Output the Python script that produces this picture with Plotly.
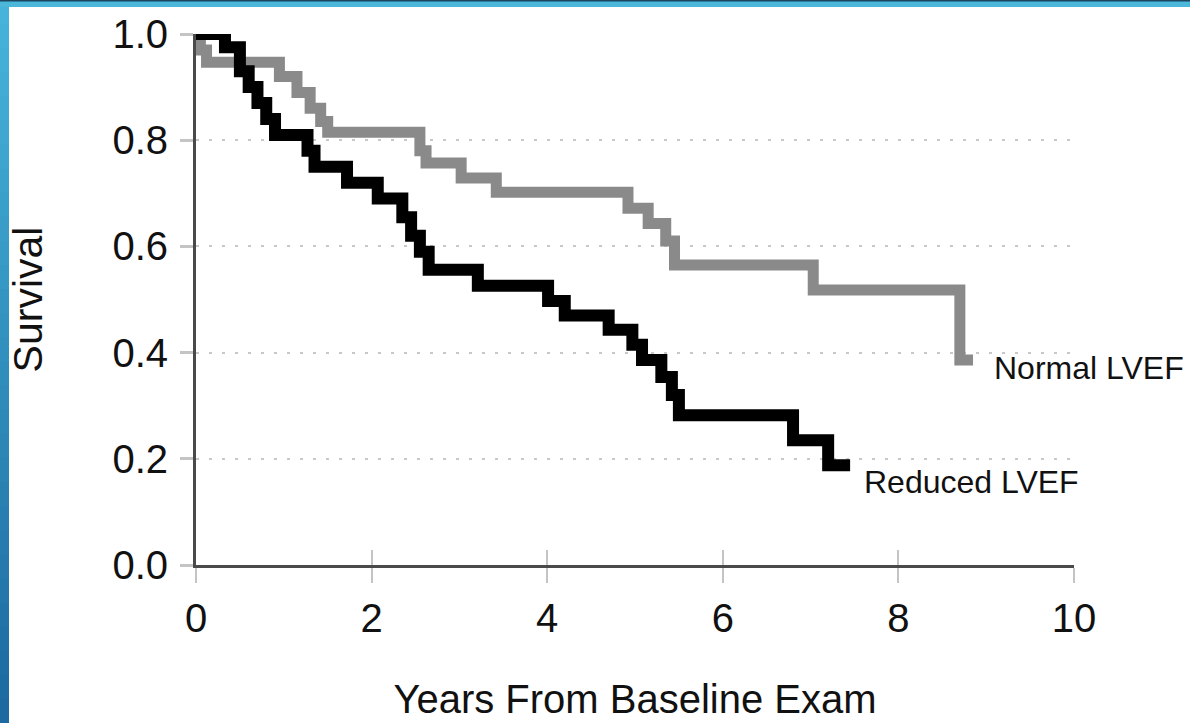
import plotly.graph_objects as go

# ---------------- data ----------------
normal_years = [0.0, 0.05, 0.12, 0.95, 1.15, 1.30, 1.42, 1.50, 2.55, 2.62, 3.02, 3.42,
                4.92, 5.15, 5.35, 5.45, 7.03, 8.70, 8.85]
normal_surv = [1.0, 0.97, 0.947, 0.92, 0.89, 0.86, 0.835, 0.815, 0.78, 0.757, 0.729, 0.702,
               0.672, 0.643, 0.61, 0.565, 0.518, 0.386, 0.386]

reduced_years = [0.0, 0.33, 0.50, 0.60, 0.70, 0.80, 0.90, 1.27, 1.35, 1.72, 2.07, 2.35,
                 2.45, 2.55, 2.65, 3.21, 4.01, 4.20, 4.70, 4.97, 5.08, 5.30, 5.42, 5.50,
                 6.80, 7.20, 7.45]
reduced_surv = [1.0, 0.975, 0.93, 0.90, 0.87, 0.84, 0.81, 0.78, 0.75, 0.72, 0.69, 0.655,
                0.62, 0.59, 0.556, 0.526, 0.497, 0.47, 0.443, 0.415, 0.386, 0.354, 0.32, 0.282,
                0.235, 0.188, 0.188]

x_tick_vals = [0, 2, 4, 6, 8, 10]
x_tick_text = ["0", "2", "4", "6", "8", "10"]
y_tick_vals = [0.0, 0.2, 0.4, 0.6, 0.8, 1.0]
y_tick_text = ["0.0", "0.2", "0.4", "0.6", "0.8", "1.0"]

series_labels = ["Normal LVEF", "Reduced LVEF"]
label_x = [9.07, 7.59]
label_y = [0.371, 0.156]

x_title = "Years From Baseline Exam"
y_title = "Survival"

# ---------------- styling ----------------
FONT = "Liberation Sans, Arial, Helvetica, sans-serif"
W, H = 1190, 723
ML, MR, MT, MB = 196, 116, 34, 158
PW, PH = W - ML - MR, H - MT - MB

def px_to_paper_x(px):
    return (px - ML) / PW

def px_to_paper_y(py):
    return (H - MB - py) / PH

fig = go.Figure()

fig.add_trace(go.Scatter(
    x=normal_years, y=normal_surv, mode="lines",
    line=dict(shape="hv", color="#8a8a8a", width=11),
    showlegend=False, hoverinfo="skip"))
fig.add_trace(go.Scatter(
    x=reduced_years, y=reduced_surv, mode="lines",
    line=dict(shape="hv", color="#000000", width=12),
    showlegend=False, hoverinfo="skip"))
# empty trace to activate overlay axis (inner half of crossing ticks)
fig.add_trace(go.Scatter(x=[None], y=[None], xaxis="x2", yaxis="y",
                         showlegend=False, hoverinfo="skip"))

for txt, lx, ly in zip(series_labels, label_x, label_y):
    fig.add_annotation(x=lx, y=ly, text=txt, showarrow=False,
                       xanchor="left", yanchor="middle",
                       font=dict(family=FONT, size=32, color="#111111"))

# decorative blue frame (top + left) like the reference slide
shapes = []
nb = 30
top_c = (70, 180, 218)
bot_c = (28, 106, 160)
for i in range(nb):
    t = i / (nb - 1)
    c = tuple(int(round(top_c[k] + (bot_c[k] - top_c[k]) * t)) for k in range(3))
    y0 = H * i / nb
    y1 = H * (i + 1) / nb + 1
    shapes.append(dict(type="rect", xref="paper", yref="paper",
                       x0=px_to_paper_x(0), x1=px_to_paper_x(9),
                       y0=px_to_paper_y(y1), y1=px_to_paper_y(y0),
                       fillcolor="rgb(%d,%d,%d)" % c, line=dict(width=0), layer="above"))
shapes.append(dict(type="rect", xref="paper", yref="paper",
                   x0=px_to_paper_x(0), x1=px_to_paper_x(W),
                   y0=px_to_paper_y(7), y1=px_to_paper_y(0),
                   fillcolor="#4bb8da", line=dict(width=0), layer="above"))
shapes.append(dict(type="rect", xref="paper", yref="paper",
                   x0=px_to_paper_x(0), x1=px_to_paper_x(W),
                   y0=px_to_paper_y(1.5), y1=px_to_paper_y(0),
                   fillcolor="#1b4560", line=dict(width=0), layer="above"))

fig.update_layout(
    template="none",
    width=W, height=H,
    margin=dict(l=ML, r=MR, t=MT, b=MB, pad=0, autoexpand=False),
    paper_bgcolor="white", plot_bgcolor="white",
    font=dict(family=FONT, color="#111111"),
    shapes=shapes,
    xaxis=dict(
        range=[0, 10], tickmode="array", tickvals=x_tick_vals, ticktext=x_tick_text,
        ticks="outside", ticklen=15, tickwidth=2, tickcolor="#c4c4c4",
        showline=True, linecolor="#4a4a4a", linewidth=3,
        showgrid=False, zeroline=False, automargin=False,
        tickfont=dict(family=FONT, size=40, color="#111111"),
        ticklabelstandoff=1,
        title=dict(text=x_title, font=dict(family=FONT, size=40, color="#111111"), standoff=46),
    ),
    xaxis2=dict(
        range=[0, 10], overlaying="x", side="bottom", anchor="y",
        tickmode="array", tickvals=x_tick_vals, ticks="inside", ticklen=15,
        tickwidth=2, tickcolor="#c4c4c4", showticklabels=False,
        showline=False, showgrid=False, zeroline=False, automargin=False,
    ),
    yaxis=dict(
        range=[0, 1], tickmode="array", tickvals=y_tick_vals, ticktext=y_tick_text,
        ticks="outside", ticklen=13, tickwidth=3, tickcolor="#c4c4c4",
        showline=True, linecolor="#4a4a4a", linewidth=3,
        showgrid=True, gridcolor="#c8c8c8", gridwidth=2, griddash="3px,10px",
        zeroline=False, automargin=False,
        tickfont=dict(family=FONT, size=40, color="#111111"),
        ticklabelstandoff=4,
        title=dict(text=y_title, font=dict(family=FONT, size=41, color="#111111"), standoff=58),
    ),
)

fig.write_html("out.html",
               config={"displayModeBar": False, "staticPlot": True},
               post_script="document.body.style.margin='0';document.body.style.padding='0';")
